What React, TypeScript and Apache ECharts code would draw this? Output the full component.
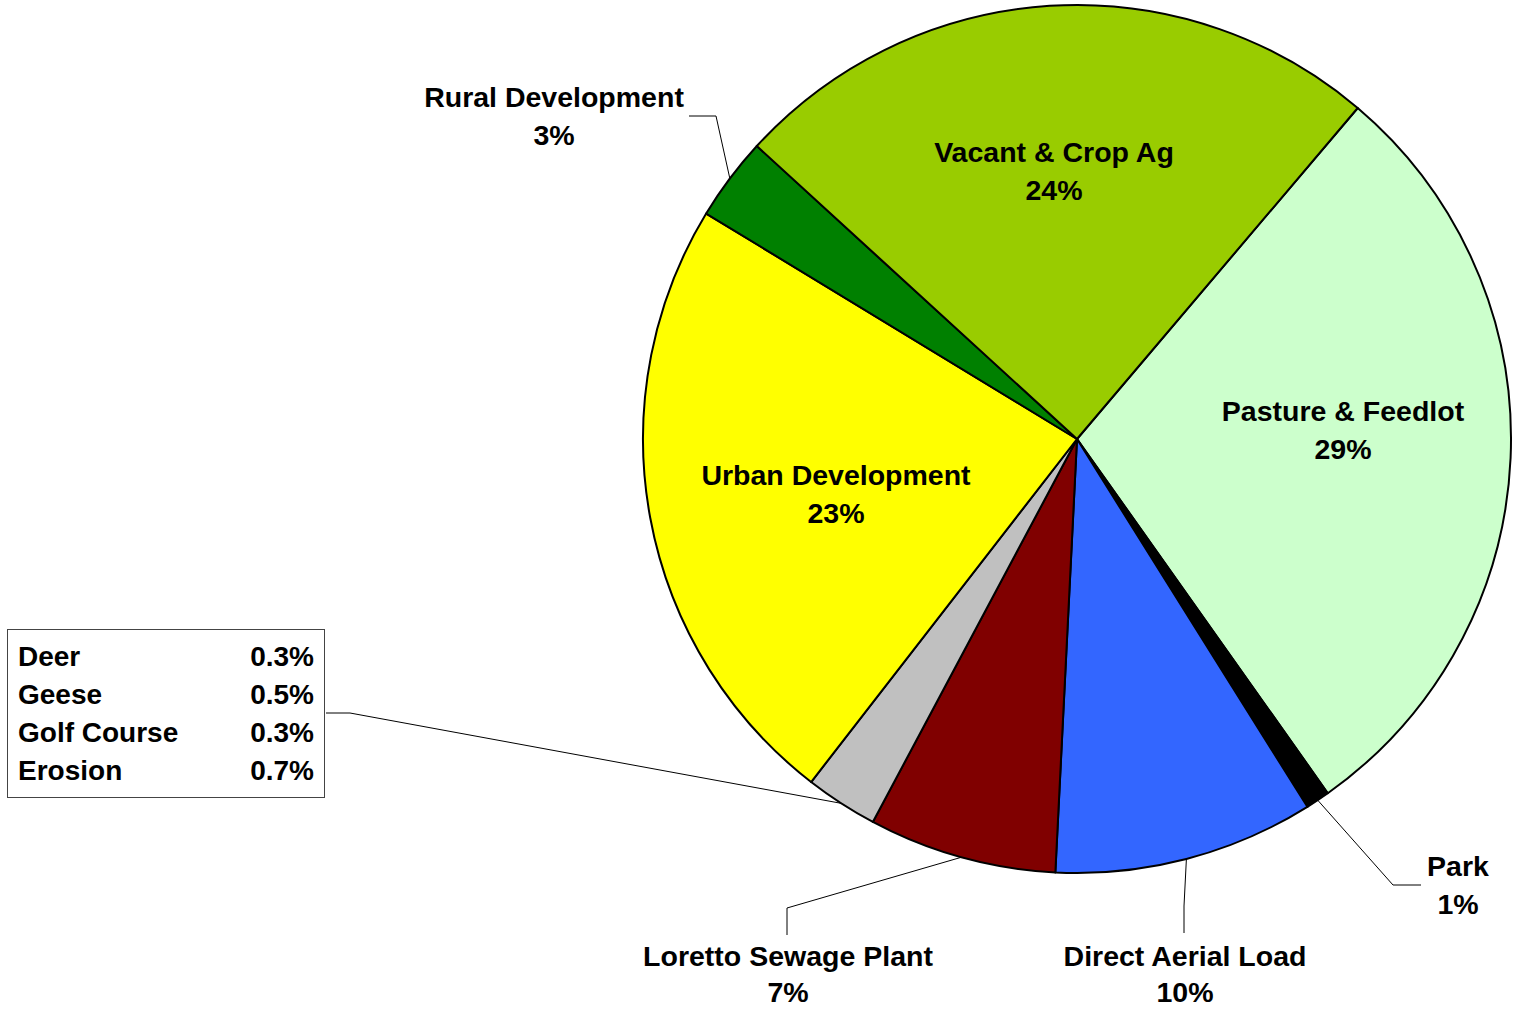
import React, { useEffect, useRef } from "react";
import * as echarts from "echarts";

const categories = [
  "Pasture & Feedlot",
  "Park",
  "Direct Aerial Load",
  "Loretto Sewage Plant",
  "Other",
  "Urban Development",
  "Rural Development",
  "Vacant & Crop Ag",
];
const shares = [29.0, 0.9, 9.7, 7.0, 2.7, 23.2, 3.1, 24.4];
const colors = ["#CCFFCC", "#000000", "#3366FF", "#800000", "#C0C0C0", "#FFFF00", "#008000", "#99CC00"];
const otherNames = ["Deer", "Geese", "Golf Course", "Erosion"];
const otherShares = [0.3, 0.5, 0.3, 0.7];

// label placement (text block centre, or box top-left for the "Other" box)
const labelAnchors: number[][] = [
  [1343, 430],
  [1458, 885],
  [1185, 974],
  [788, 974],
  [8, 630],
  [836, 494],
  [554, 116],
  [1054, 171],
];
const labelLineHeights = [38, 38, 36, 36, 38, 38, 38, 38];
const labelBends: (number[][] | null)[] = [
  null,
  [[1393, 885], [1421, 885]],
  [[1184, 906], [1184, 933]],
  [[787, 908], [787, 935]],
  [[350, 713], [326, 713]],
  null,
  [[716, 116], [689, 116]],
  null,
];

const FONT = "'Liberation Sans', Arial, sans-serif";

export default function App() {
  const ref = useRef<HTMLDivElement>(null);
  useEffect(() => {
    document.body.style.margin = "0";
    const chart = echarts.init(ref.current!, null, { renderer: "svg" });
    const otherText = otherNames
      .map((n, i) => `{n|${n}}{v|${otherShares[i].toFixed(1)}%}`)
      .join("\n");
    const data = categories.map((name, i) => {
      const isOther = name === "Other";
      const item: any = {
        name,
        value: shares[i],
        itemStyle: { color: colors[i] },
        labelLine: { show: labelBends[i] !== null },
        label: { lineHeight: labelLineHeights[i] },
      };
      if (isOther) {
        item.label = {
          formatter: otherText,
          backgroundColor: "#ffffff",
          borderColor: "#444444",
          borderWidth: 1,
          padding: [7, 10, 8, 10],
          rich: {
            n: { width: 214, fontSize: 28, fontWeight: "bold", fontFamily: FONT, color: "#000", lineHeight: 38, align: "left" },
            v: { width: 82, fontSize: 28, fontWeight: "bold", fontFamily: FONT, color: "#000", lineHeight: 38, align: "right" },
          },
        };
      }
      return item;
    });
    chart.setOption({
      animation: false,
      backgroundColor: "#ffffff",
      series: [
        {
          type: "pie",
          center: [1077, 439],
          radius: [0, 434],
          startAngle: 49.7,
          clockwise: true,
          avoidLabelOverlap: false,
          silent: true,
          itemStyle: { borderColor: "#000000", borderWidth: 2 },
          label: {
            show: true,
            position: "outside",
            color: "#000000",
            fontFamily: FONT,
            fontWeight: "bold",
            fontSize: 28.5,
            lineHeight: 38,
            align: "center",
            formatter: (p: any) => `${p.name}\n${Math.round(p.value)}%`,
          },
          labelLine: { show: true, lineStyle: { color: "#000000", width: 1 }, length: 10, length2: 10 },
          labelLayout: (params: any) => {
            const i = params.dataIndex;
            const a = labelAnchors[i];
            const isOther = categories[i] === "Other";
            const out: any = {
              x: a[0],
              y: a[1],
              align: isOther ? "left" : "center",
              verticalAlign: isOther ? "top" : "middle",
            };
            const bends = labelBends[i];
            if (bends && params.labelLinePoints && params.labelLinePoints[0]) {
              out.labelLinePoints = [params.labelLinePoints[0], bends[0], bends[1]];
            }
            return out;
          },
          data,
        },
      ],
    });
    return () => chart.dispose();
  }, []);
  return <div ref={ref} style={{ width: 1513, height: 1011 }} />;
}
